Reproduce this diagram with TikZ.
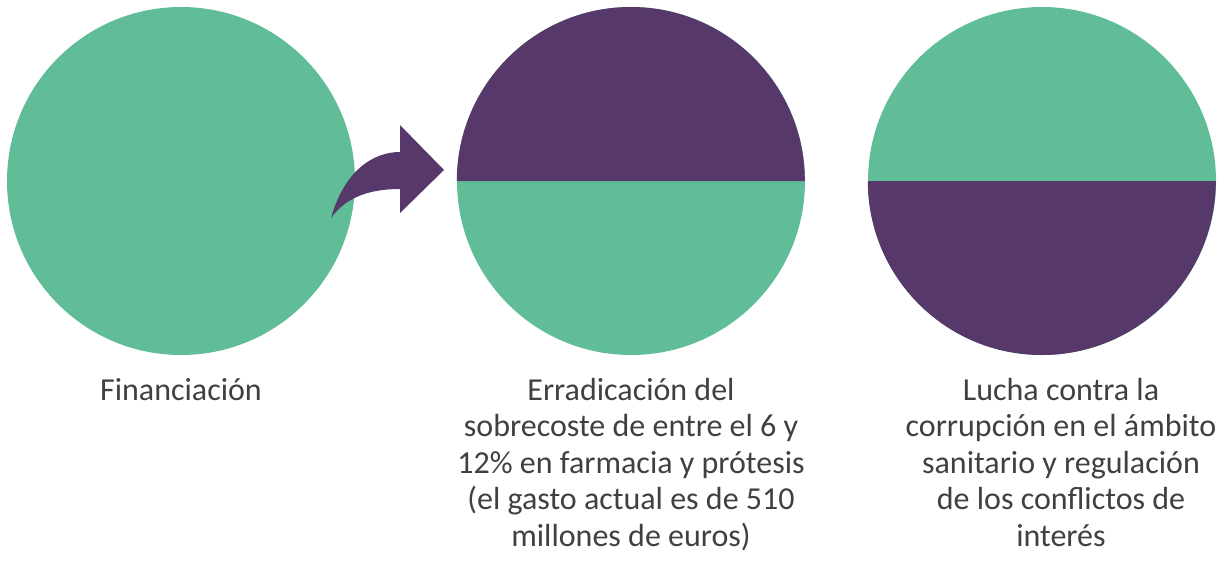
\documentclass[tikz,border=0pt]{standalone}
\usepackage{fontspec}
\setmainfont{Carlito}
\usepackage{tikz}
\definecolor{verde}{RGB}{96,189,152}
\definecolor{morado}{RGB}{86,57,106}
\definecolor{gristexto}{RGB}{64,64,64}

\begin{document}
\begin{tikzpicture}[x=1pt,y=-1pt,main/.style={circle, fill=verde, minimum size=348pt, inner sep=0pt},txt/.style={align=center, text=gristexto, inner sep=0pt, anchor=base, font=\fontsize{32}{36.6}\selectfont}]
            \useasboundingbox (0,0) rectangle (1225,560);
            \node[main] (0) at (181,181) {};
            \node[main] (1) at (631,181) {};
            \node[main] (2) at (1042,181) {};

            % halves (y axis points down)
            \fill[morado] (1.west) arc[start angle=180, end angle=360, radius=174] -- cycle;
            \fill[morado] (2.west) arc[start angle=180, end angle=0, radius=174] -- cycle;

            \fill[morado] (331,218) .. controls (344,172) and (372,152) .. (400,152)
              -- (400,125) -- (444,170) -- (400,213) -- (400,189)
              .. controls (370,189) and (346,197) .. (331,218) -- cycle;

            % base anchor = last line
            \node[txt] (t0) at (181,400) {Financiación};
            \node[txt] (t1) at (631,546.4) {Erradicación del\\sobrecoste de entre el 6 y\\12\% en farmacia y prótesis\\(el gasto actual es de 510\\millones de euros)};
            \node[txt] (t2) at (1061,546.4) {Lucha contra la\\corrupción en el ámbito\\sanitario y regulación\\de los conflictos de\\interés};
          \end{tikzpicture}
\end{document}
